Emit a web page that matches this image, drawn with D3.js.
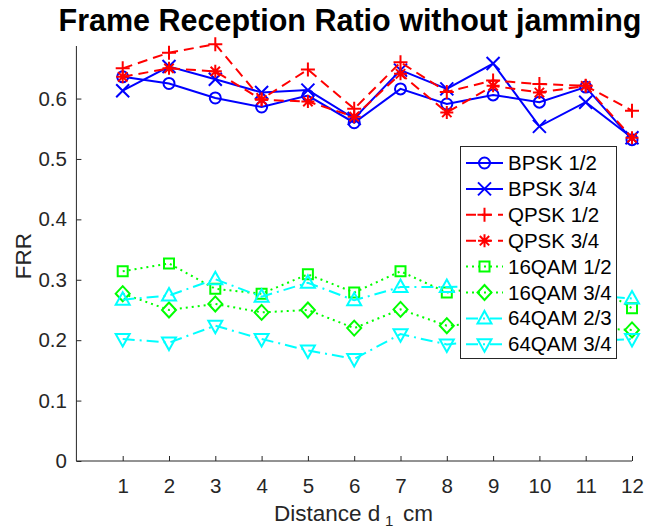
<!DOCTYPE html>
<html><head><meta charset="utf-8">
<script src="https://cdn.jsdelivr.net/npm/d3@7"></script>
<style>body{margin:0;background:#fff}svg{display:block}</style>
</head><body>
<script>
const distances = [1,2,3,4,5,6,7,8,9,10,11,12];
const seriesNames = ["BPSK 1/2","BPSK 3/4","QPSK 1/2","QPSK 3/4","16QAM 1/2","16QAM 3/4","64QAM 2/3","64QAM 3/4"];
const bpsk12  = [0.636,0.625,0.601,0.586,0.605,0.560,0.616,0.591,0.606,0.594,0.619,0.532];
const bpsk34  = [0.613,0.653,0.632,0.610,0.614,0.567,0.647,0.616,0.658,0.554,0.594,0.535];
const qpsk12  = [0.650,0.676,0.690,0.599,0.648,0.583,0.660,0.611,0.630,0.624,0.621,0.580];
const qpsk34  = [0.636,0.650,0.645,0.598,0.595,0.570,0.641,0.577,0.621,0.610,0.621,0.535];
const qam16_12 = [0.314,0.327,0.285,0.277,0.309,0.279,0.314,0.279,0.290,0.285,0.300,0.253];
const qam16_34 = [0.277,0.250,0.260,0.246,0.250,0.220,0.251,0.224,0.230,0.235,0.220,0.217];
const qam64_23 = [0.267,0.274,0.301,0.272,0.295,0.266,0.288,0.288,0.290,0.285,0.275,0.269];
const qam64_34 = [0.202,0.196,0.224,0.202,0.183,0.169,0.210,0.193,0.200,0.200,0.198,0.202];
const yTicks = [0,0.1,0.2,0.3,0.4,0.5,0.6];
const xTicks = distances;

const W = 645, H = 531;
const FONT = "Liberation Sans, Arial, Helvetica, sans-serif";
const svg = d3.select("body").append("svg").attr("width",W).attr("height",H);
const x = d3.scaleLinear().domain([0,12]).range([76.4,632]);
const y = d3.scaleLinear().domain([0,0.687]).range([461,46]);

const styles = [
  {data:bpsk12, color:"#0000ff", dash:null, marker:"circle"},
  {data:bpsk34, color:"#0000ff", dash:null, marker:"x"},
  {data:qpsk12, color:"#ff0000", dash:"10,6", marker:"plus"},
  {data:qpsk34, color:"#ff0000", dash:"10,6", marker:"star"},
  {data:qam16_12, color:"#00ff00", dash:"2,4", marker:"square"},
  {data:qam16_34, color:"#00ff00", dash:"2,4", marker:"diamond"},
  {data:qam64_23, color:"#00ffff", dash:"12,5,2,5", marker:"tri"},
  {data:qam64_34, color:"#00ffff", dash:"12,5,2,5", marker:"trid"}
];

function markerPath(type){
  const s = 6.5;
  switch(type){
    case "circle": return `M${-5.5},0A5.5,5.5 0 1,0 5.5,0A5.5,5.5 0 1,0 -5.5,0Z`;
    case "x": return `M${-s},${-s}L${s},${s}M${-s},${s}L${s},${-s}`;
    case "plus": return `M${-s-0.5},0L${s+0.5},0M0,${-s-0.5}L0,${s+0.5}`;
    case "star": {const d=s*0.72; return `M${-s},0L${s},0M0,${-s}L0,${s}M${-d},${-d}L${d},${d}M${-d},${d}L${d},${-d}`;}
    case "square": return `M-5,-5L5,-5L5,5L-5,5Z`;
    case "diamond": return `M0,-7.5L7,0L0,7.5L-7,0Z`;
    case "tri": return `M0,-7.5L7,5L-7,5Z`;
    case "trid": return `M0,7.5L7,-5L-7,-5Z`;
  }
}

// axes
const axisColor = "#262626";
const gx = svg.append("g").attr("transform",`translate(0,${y(0)})`)
  .call(d3.axisBottom(x).tickValues(xTicks).tickSizeInner(-5).tickSizeOuter(0).tickPadding(17.5).tickFormat(d3.format("d")));
const gy = svg.append("g").attr("transform",`translate(${x(0)},0)`)
  .call(d3.axisLeft(y).tickValues(yTicks).tickSizeInner(-5).tickSizeOuter(0).tickPadding(9.5).tickFormat(d=> d===0?"0":d3.format(".1f")(d)));
[gx,gy].forEach(g=>{
  g.select(".domain").attr("stroke",axisColor).attr("stroke-width",1);
  g.selectAll(".tick line").attr("stroke",axisColor);
  g.selectAll(".tick text").attr("fill",axisColor).attr("font-family",FONT).attr("font-size",20.5);
});
gx.select(".domain").attr("d",`M${x(0)},0H${x(12)}`);
gy.select(".domain").attr("d",`M0,${y(0)}V${y(0.687)}`);

// lines
const line = d3.line().x((d,i)=>x(distances[i])).y(d=>y(d));
styles.forEach(st=>{
  svg.append("path").datum(st.data).attr("d",line).attr("fill","none")
    .attr("stroke",st.color).attr("stroke-width",2)
    .attr("stroke-dasharray",st.dash);
  svg.append("g").selectAll("path").data(st.data).join("path")
    .attr("transform",(d,i)=>`translate(${x(distances[i])},${y(d)})`)
    .attr("d",markerPath(st.marker)).attr("fill","none")
    .attr("stroke",st.color).attr("stroke-width",2);
});

// title
svg.append("text").attr("x",350).attr("y",31).attr("text-anchor","middle")
  .attr("font-family",FONT).attr("font-weight","bold").attr("font-size",30.5)
  .attr("fill","#000").text("Frame Reception Ratio without jamming");

// axis labels
svg.append("text").attr("transform","translate(31,256) rotate(-90)").attr("text-anchor","middle")
  .attr("font-family",FONT).attr("font-size",22.5).attr("fill",axisColor).text("FRR");
const xl = svg.append("text").attr("x",274).attr("y",521)
  .attr("font-family",FONT).attr("font-size",22.5).attr("fill",axisColor);
xl.append("tspan").text("Distance d");
xl.append("tspan").attr("x",385).attr("dy",5).attr("font-size",15).text("1");
xl.append("tspan").attr("x",403).attr("dy",-5).text("cm");

// legend
const lg = svg.append("g");
lg.append("rect").attr("x",460.5).attr("y",146.5).attr("width",156).attr("height",212)
  .attr("fill","#fff").attr("stroke","#262626").attr("stroke-width",1);
styles.forEach((st,i)=>{
  const cy = 163 + i*25.9;
  lg.append("line").attr("x1",466).attr("x2",503).attr("y1",cy).attr("y2",cy)
    .attr("stroke",st.color).attr("stroke-width",2).attr("stroke-dasharray",st.dash);
  lg.append("path").attr("transform",`translate(484.5,${cy})`).attr("d",markerPath(st.marker))
    .attr("fill","none").attr("stroke",st.color).attr("stroke-width",2);
  lg.append("text").attr("x",508).attr("y",cy+7).attr("font-family",FONT)
    .attr("font-size",20.5).attr("fill","#000").text(seriesNames[i]);
});
</script>
</body></html>
